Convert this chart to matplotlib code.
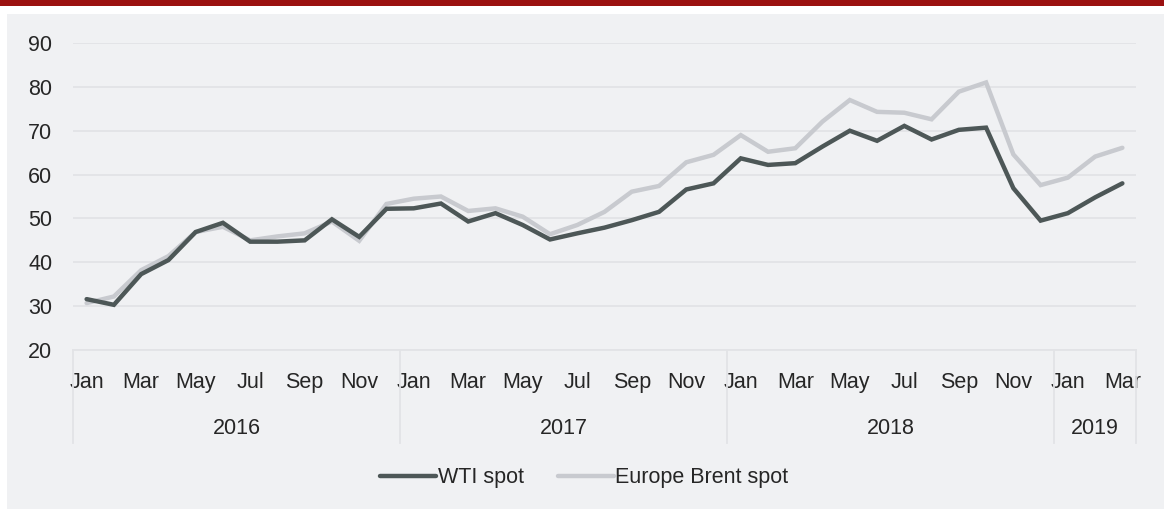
import numpy as np
import matplotlib.pyplot as plt
from matplotlib.patches import Rectangle
import matplotlib.transforms as mtransforms

months = ["Jan", "Feb", "Mar", "Apr", "May", "Jun", "Jul", "Aug", "Sep", "Oct", "Nov", "Dec"]
years = ["2016", "2017", "2018", "2019"]
months_per_year = [12, 12, 12, 3]

wti = [31.6, 30.3, 37.3, 40.5, 46.9, 49.0, 44.7, 44.7, 45.0, 49.8, 45.8, 52.2,
       52.3, 53.4, 49.3, 51.2, 48.5, 45.2, 46.6, 47.9, 49.6, 51.5, 56.6, 58.0,
       63.7, 62.2, 62.6, 66.4, 70.0, 67.7, 71.1, 68.0, 70.2, 70.7, 56.9, 49.5,
       51.2, 54.8, 58.0]
brent = [30.7, 32.2, 38.2, 41.4, 46.9, 48.1, 45.0, 45.9, 46.6, 49.3, 44.9, 53.3,
         54.5, 55.0, 51.7, 52.3, 50.4, 46.4, 48.5, 51.5, 56.1, 57.4, 62.8, 64.5,
         69.0, 65.2, 66.0, 72.1, 77.0, 74.3, 74.1, 72.6, 78.9, 81.0, 64.6, 57.6,
         59.3, 64.1, 66.1]

plt.rcParams["font.family"] = ["Liberation Sans", "DejaVu Sans"]
text_col = "#262626"
fs = 15.5

fig = plt.figure(figsize=(11.64, 5.09), dpi=100)
fig.patch.set_facecolor("white")
# grey panel and red top bar
fig.patches.append(Rectangle((7 / 1164, 0), 1, (509 - 14) / 509, transform=fig.transFigure,
                             facecolor="#f0f1f3", edgecolor="none", zorder=-2))
fig.patches.append(Rectangle((0, (509 - 5.5) / 509), 1, 1, transform=fig.transFigure,
                             facecolor="#9b1110", edgecolor="none", zorder=-1))

ax = fig.add_axes([73 / 1164, (509 - 350) / 509, (1136 - 73) / 1164, (350 - 43) / 509])
ax.set_facecolor("none")

x = np.arange(len(wti))
ax.plot(x, wti, color="#4d5757", lw=3.2, solid_capstyle="round", solid_joinstyle="miter",
        label="WTI spot", zorder=3)
ax.plot(x, brent, color="#c8cacf", lw=3.2, solid_capstyle="round", solid_joinstyle="miter",
        label="Europe Brent spot", zorder=2)

ax.set_xlim(-0.5, len(wti) - 0.5)
ax.set_ylim(20, 90)
ax.set_yticks(range(20, 91, 10))
ax.yaxis.grid(True, color="#e2e3e6", lw=1.3)
ax.set_axisbelow(True)
for s in ["top", "right", "left"]:
    ax.spines[s].set_visible(False)
ax.spines["bottom"].set_color("#e2e3e6")
ax.spines["bottom"].set_linewidth(1.3)

labels = []
for n in months_per_year:
    labels += months[:n]
ax.set_xticks(x[::2])
ax.set_xticklabels(labels[::2])
ax.tick_params(axis="x", length=0, pad=16, labelsize=fs, labelcolor=text_col)
ax.tick_params(axis="y", length=0, pad=15, labelsize=fs, labelcolor=text_col)

# year groups
trans = mtransforms.blended_transform_factory(ax.transData, ax.transAxes)
edges = np.concatenate([[0], np.cumsum(months_per_year)]) - 0.5
for e in edges:
    ax.plot([e, e], [0, -0.303], transform=trans, color="#e2e3e6", lw=1.3, clip_on=False)
for i, y in enumerate(years):
    mid = (edges[i] + edges[i + 1]) / 2
    ax.text(mid, -0.257, y, transform=trans, ha="center", va="center",
            fontsize=fs, color=text_col)

fig.legend(loc="center", bbox_to_anchor=(0.502, (509 - 478) / 509), ncol=2, frameon=False,
           fontsize=fs, handlelength=2.6, handletextpad=0.05, columnspacing=1.6,
           labelcolor=text_col)

fig.savefig("out.png", dpi=100)
